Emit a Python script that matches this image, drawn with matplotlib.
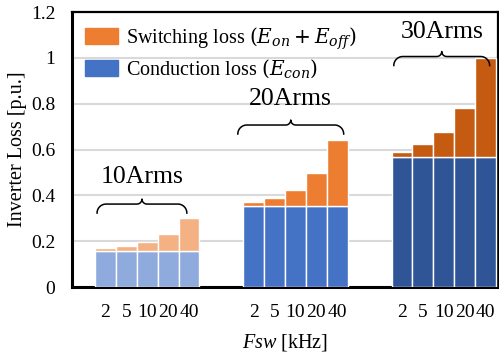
import numpy as np
import matplotlib
matplotlib.use("Agg")
import matplotlib.pyplot as plt
from matplotlib.patches import Patch

plt.rcParams['font.family'] = ['Liberation Serif', 'DejaVu Serif']
plt.rcParams['mathtext.fontset'] = 'custom'
plt.rcParams['mathtext.rm'] = 'Liberation Serif'
plt.rcParams['mathtext.it'] = 'Liberation Serif:italic'

# data
freqs = ["2", "5", "10", "20", "40"]
currents = ["10Arms", "20Arms", "30Arms"]
cond_10 = [0.159, 0.155, 0.155, 0.155, 0.155]
total_10 = [0.169, 0.178, 0.195, 0.230, 0.301]
cond_20 = [0.352, 0.352, 0.352, 0.352, 0.352]
total_20 = [0.371, 0.390, 0.425, 0.498, 0.643]
cond_30 = [0.566, 0.566, 0.566, 0.566, 0.566]
total_30 = [0.590, 0.623, 0.675, 0.783, 1.000]

cond = [cond_10, cond_20, cond_30]
total = [total_10, total_20, total_30]
blues = ["#8FAADC", "#4472C4", "#2F5597"]
oranges = ["#F4B183", "#ED7D31", "#C55A11"]

# annotation placement (brace level, label level, brace extents relative to group)
brace_y = [0.362, 0.707, 1.006]
label_y = [0.48, 0.82, 1.115]
brace_x = [(-0.40, 3.90), (-0.76, 4.31), (-0.39, 4.20)]

fig = plt.figure(figsize=(4.99, 3.58), dpi=100)
ax = fig.add_axes([0.1443, 0.1983, 0.8537, 0.768])

group_gap = 7.1
xs_all = []
for g in range(3):
    xs = np.arange(5) + g * group_gap
    xs_all.extend(xs)
    sw = np.array(total[g]) - np.array(cond[g])
    ax.bar(xs, cond[g], width=1.0, color=blues[g], edgecolor="white", linewidth=1.0, zorder=3)
    ax.bar(xs, sw, bottom=cond[g], width=1.0, color=oranges[g], edgecolor="white", linewidth=1.0, zorder=3)

ax.set_xlim(-1.6, 18.8)
ax.set_ylim(0, 1.2)
ax.set_yticks([0, 0.2, 0.4, 0.6, 0.8, 1.0, 1.2])
ax.set_yticklabels(["0", "0.2", "0.4", "0.6", "0.8", "1", "1.2"])
ax.set_xticks(xs_all)
ax.set_xticklabels(freqs * 3)
ax.tick_params(axis="both", length=0, labelsize=14)
ax.tick_params(axis="x", pad=12)
ax.tick_params(axis="y", pad=12)
ax.grid(axis="y", color="#D9D9D9", linewidth=1.5, zorder=0)
for s in ax.spines.values():
    s.set_linewidth(1.6)
ax.spines["left"].set_linewidth(2.2)
ax.spines["bottom"].set_linewidth(2.2)

ax.set_ylabel("Inverter Loss [p.u.]", fontsize=14.5, labelpad=3)
ax.set_xlabel(r"$Fsw$ [kHz]", fontsize=14.5, labelpad=8)

# curly braces drawn in pixel-space, converted back to data
fig.canvas.draw()
bb = ax.get_window_extent()
sx = bb.width / (18.8 + 1.6)
sy = bb.height / 1.2


def brace(x0, x1, y, d=9.0, t=5.0):
    xm = (x0 + x1) / 2 * sx
    X0, X1, Y = x0 * sx, x1 * sx, y * sy
    pts = []
    a = np.linspace(np.pi, np.pi / 2, 15)
    pts += list(zip(X0 + d + d * np.cos(a), Y - d + d * np.sin(a)))
    a = np.linspace(-np.pi / 2, 0, 10)
    pts += list(zip(xm - t + t * np.cos(a), Y + t + t * np.sin(a)))
    a = np.linspace(np.pi, 3 * np.pi / 2, 10)
    pts += list(zip(xm + t + t * np.cos(a), Y + t + t * np.sin(a)))
    a = np.linspace(np.pi / 2, 0, 15)
    pts += list(zip(X1 - d + d * np.cos(a), Y - d + d * np.sin(a)))
    pts = np.array(pts)
    ax.plot(pts[:, 0] / sx, pts[:, 1] / sy, color="black", lw=1.1, zorder=5, clip_on=False)


for g in range(3):
    off = g * group_gap
    b0, b1 = brace_x[g]
    brace(off + b0, off + b1, brace_y[g])
    ax.text(off + (b0 + b1) / 2, label_y[g], currents[g], ha="center", va="center",
            fontsize=18.5, zorder=6)

handles = [Patch(color="#ED7D31"), Patch(color="#4472C4")]
labels = [r"Switching loss $(E_{on}+E_{off})$", r"Conduction loss $(E_{con})$"]
leg = ax.legend(handles, labels, loc="upper left", frameon=False, fontsize=14.5,
                handlelength=1.65, handleheight=0.85, handletextpad=0.4,
                borderaxespad=0.25, labelspacing=0.3)
for txt in leg.get_texts():
    txt.set_math_fontfamily('dejavuserif')

fig.savefig("out.png", dpi=100)
